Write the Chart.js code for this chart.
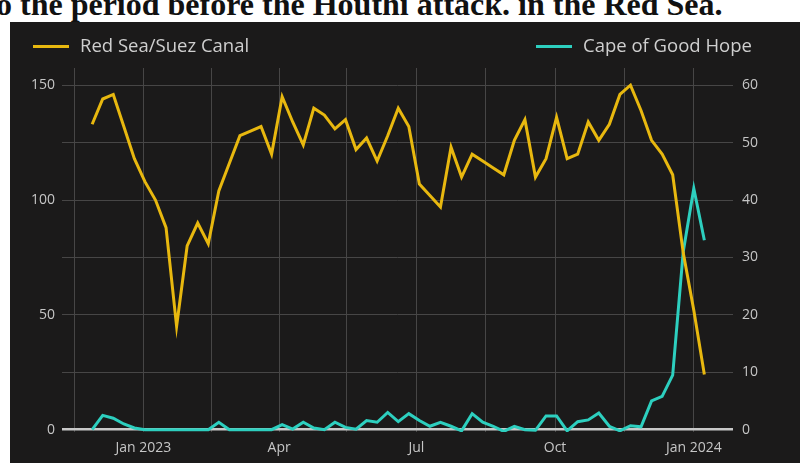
<!DOCTYPE html>
<html>
<head>
<meta charset="utf-8">
<script src="https://cdn.jsdelivr.net/npm/chart.js@4.4.1/dist/chart.umd.min.js"></script>
<style>
  html, body { margin: 0; padding: 0; background: #fff; width: 800px; height: 463px; overflow: hidden; }
  #caption { position: absolute; left: -4px; top: -12px; white-space: nowrap;
    font-family: "Liberation Serif", "DejaVu Serif", serif; font-weight: bold; font-size: 32px; line-height: 32px; color: #111; }
  #panel { position: absolute; left: 10px; top: 22px; width: 790px; height: 441px; background: #1b1a1a; }
  #chart { position: absolute; left: 0; top: 0; }
  .leg { position: absolute; top: 12px; font-family: "Open Sans", sans-serif; font-size: 18.5px; color: #cfcfcf; height: 22px; line-height: 22px; white-space: nowrap; }
  .leg span.sw { display: inline-block; width: 36px; height: 3px; vertical-align: middle; margin-right: 11px; position: relative; top: -1px; }
</style>
</head>
<body>
<div id="caption">o the period before the Houthi attack. in the Red Sea.</div>
<div id="panel">
  <canvas id="chart" width="790" height="441"></canvas>
</div>
<script>
// weekly observations
const weekDates = [
  '2022-11-28','2022-12-05','2022-12-12','2022-12-19','2022-12-26',
  '2023-01-02','2023-01-09','2023-01-16','2023-01-23','2023-01-30',
  '2023-02-06','2023-02-13','2023-02-20','2023-02-27',
  '2023-03-06','2023-03-13','2023-03-20','2023-03-27',
  '2023-04-03','2023-04-10','2023-04-17','2023-04-24',
  '2023-05-01','2023-05-08','2023-05-15','2023-05-22','2023-05-29',
  '2023-06-05','2023-06-12','2023-06-19','2023-06-26',
  '2023-07-03','2023-07-10','2023-07-17','2023-07-24','2023-07-31',
  '2023-08-07','2023-08-14','2023-08-21','2023-08-28',
  '2023-09-04','2023-09-11','2023-09-18','2023-09-25',
  '2023-10-02','2023-10-09','2023-10-16','2023-10-23','2023-10-30',
  '2023-11-06','2023-11-13','2023-11-20','2023-11-27',
  '2023-12-04','2023-12-11','2023-12-18','2023-12-25',
  '2024-01-01','2024-01-08'
];

// Red Sea/Suez Canal (left axis)
const redSea = [133,144,146,132,118,108,100,88,45,80,90,81,104,116,128,130,132,120,145,134,
  124,140,137,131,135,122,127,117,128,140,132,107,102,97,123,110,120,117,114,111,
  126,135,110,118,136,118,120,134,126,133,146,150,139,126,120,111,77,52,24];

// Cape of Good Hope (right axis)
const capeHope = [0,2.5,2.0,1.0,0.3,0,0,0,0,0,0,0,1.3,0,0,0,0,0,0.9,0.1,
  1.3,0.3,0,1.3,0.4,0.1,1.6,1.3,3.0,1.4,2.8,1.6,0.6,1.3,0.6,-0.2,2.8,1.3,0.6,-0.3,
  0.6,0,-0.1,2.4,2.4,-0.2,1.4,1.7,2.9,0.6,-0.2,0.7,0.5,5.0,5.8,9.5,31,42,33];

const seriesNames = ['Red Sea/Suez Canal', 'Cape of Good Hope'];
const seriesColors = ['#e8b80f', '#2dcfbf'];

// x axis: days from 1 Jan 2023
const xGridDays = [-46, 0, 45, 90, 135, 181, 227, 273, 319, 365];
const xTickLabels = {0: 'Jan 2023', 90: 'Apr', 181: 'Jul', 273: 'Oct', 365: 'Jan 2024'};
const leftTicks = [0, 25, 50, 75, 100, 125, 150];
const rightTicks = [0, 10, 20, 30, 40, 50, 60];

const base = Date.UTC(2023, 0, 1);
function dayOf(s) {
  const p = s.split('-');
  return Math.round((Date.UTC(+p[0], +p[1] - 1, +p[2]) - base) / 86400000);
}
const xs = weekDates.map(dayOf);

// legend
const legPos = [23, 526];
seriesNames.forEach((name, i) => {
  const d = document.createElement('div');
  d.className = 'leg';
  d.style.left = legPos[i] + 'px';
  d.innerHTML = '<span class="sw" style="background:' + seriesColors[i] + '"></span>' + name;
  document.getElementById('panel').appendChild(d);
});

const tickFont = { family: 'Open Sans', size: 14 };
const tickColor = '#c6c6c6';
const gridColor = '#474646';

new Chart(document.getElementById('chart'), {
  type: 'line',
  data: {
    datasets: [
      {
        label: seriesNames[0],
        data: xs.map((x, i) => ({ x: x, y: redSea[i] })),
        borderColor: seriesColors[0],
        borderWidth: 3,
        pointRadius: 0,
        tension: 0,
        yAxisID: 'y'
      },
      {
        label: seriesNames[1],
        data: xs.map((x, i) => ({ x: x, y: capeHope[i] })),
        borderColor: seriesColors[1],
        borderWidth: 3,
        pointRadius: 0,
        tension: 0,
        yAxisID: 'y1'
      }
    ]
  },
  options: {
    responsive: false,
    animation: false,
    devicePixelRatio: 1,
    layout: { padding: { top: 46, left: 0, right: 0, bottom: 0 } },
    plugins: { legend: { display: false }, tooltip: { enabled: false } },
    scales: {
      x: {
        type: 'linear',
        min: -54,
        max: 391,
        afterBuildTicks: s => { s.ticks = xGridDays.map(v => ({ value: v })); },
        afterFit: s => { s.height = 31; },
        ticks: {
          autoSkip: false,
          maxRotation: 0,
          padding: 8,
          color: tickColor,
          font: tickFont,
          callback: v => xTickLabels[v] || ''
        },
        grid: { color: gridColor, lineWidth: 1, drawTicks: false },
        border: { display: false }
      },
      y: {
        position: 'left',
        min: -1,
        max: 157.5,
        afterBuildTicks: s => { s.ticks = leftTicks.map(v => ({ value: v })); },
        afterFit: s => { s.width = 52; },
        ticks: {
          padding: 7,
          color: tickColor,
          font: tickFont,
          callback: v => (v % 50 === 0 ? String(v) : '')
        },
        grid: {
          drawTicks: false,
          color: c => (c.tick && c.tick.value === 0 ? '#c8c8c8' : gridColor),
          lineWidth: c => (c.tick && c.tick.value === 0 ? 2.5 : 1)
        },
        border: { display: false }
      },
      y1: {
        position: 'right',
        min: -0.4,
        max: 63,
        afterBuildTicks: s => { s.ticks = rightTicks.map(v => ({ value: v })); },
        afterFit: s => { s.width = 67; },
        ticks: { padding: 9, color: tickColor, font: tickFont },
        grid: { display: false, drawTicks: false },
        border: { display: false }
      }
    }
  }
});
</script>
</body>
</html>
